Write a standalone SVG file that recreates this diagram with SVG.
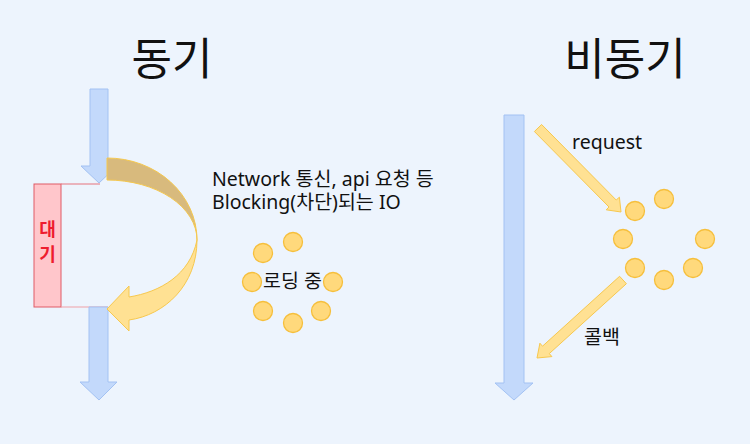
<svg xmlns="http://www.w3.org/2000/svg" width="750" height="444" viewBox="0 0 750 444">
<style>
.bg{fill:#edf4fd}
.blue{fill:#c3d9fb;stroke:#a3c2f3;stroke-width:1}
.yel{fill:#ffe193;stroke:#f7c84e;stroke-width:1}
.dot{fill:#ffd97c;stroke:#f6bf3c;stroke-width:1.3}
.t{font-family:"Noto Sans CJK KR","Noto Sans",sans-serif;fill:#111}
.l{font-family:"Noto Sans","Noto Sans CJK KR",sans-serif;fill:#111}
.title{font-size:44px;text-anchor:middle}
.lbl{font-size:19.5px}
</style>
<rect class="bg" x="0" y="0" width="750" height="444"/>
<g id="title-sync"><text class="t title" x="172" y="75">동기</text></g>
<g id="title-async"><text class="t title" x="625" y="75">비동기</text></g>
<g id="wait">
<rect x="34" y="184" width="27" height="123" fill="#ffc6cb" stroke="#e05a66" stroke-width="1"/>
<line x1="61" y1="184" x2="100" y2="184" stroke="#e6737d" stroke-width="1"/>
<line x1="61" y1="307" x2="108" y2="307" stroke="#f0a0a8" stroke-width="1.2"/>
<text class="t" x="47.5" y="236" font-size="18" font-weight="bold" text-anchor="middle" style="fill:#ee1c2e">대</text>
<text class="t" x="47.5" y="261" font-size="18" font-weight="bold" text-anchor="middle" style="fill:#ee1c2e">기</text>
</g>
<g id="connectors">
<polygon class="blue" points="90,89 108,89 108,166 117,166 99,183 81,166 90,166"/>
<polygon class="blue" points="89,307 108,307 108,382 117,382 99,400 80,382 89,382"/>
<path d="M107,158 A90,82 0 0 1 197,240 A90,60 0 0 0 107,180 Z" fill="#d8ba7d" stroke="#f5c84f" stroke-width="1"/>
<path class="yel" d="M197,240 C197,285 165,315 129,320 L129,331 L107,309 L129,286 L129,297 C160,292 190,275 197,240 Z"/>
<polygon class="blue" points="504,115 524,115 524,383 533,383 514,400 495,383 504,383"/>
<polygon class="yel" points="534.4,131.5 541.6,124.5 616.2,200.0 619.4,197.2 621,212 606.2,209.8 609.0,207.0"/>
<polygon class="yel" points="619.6,276.3 542.5,346.2 539.9,343.2 537,358 551.9,356.6 549.3,353.6 626.4,283.7"/>
</g>
<g id="desc">
<text class="l lbl" x="212" y="186">Network 통신, api 요청 등</text>
<text class="l lbl" x="212" y="209">Blocking(차단)되는 IO</text>
</g>
<g id="loading">
<circle class="dot" cx="293" cy="242" r="9.5"/>
<circle class="dot" cx="263" cy="253" r="9.5"/>
<circle class="dot" cx="252" cy="282" r="9.5"/>
<circle class="dot" cx="333" cy="282" r="9.5"/>
<circle class="dot" cx="263" cy="311" r="9.5"/>
<circle class="dot" cx="321" cy="311" r="9.5"/>
<circle class="dot" cx="293" cy="323" r="9.5"/>
<text class="l lbl" x="292.5" y="288" text-anchor="middle">로딩 중</text>
</g>
<g id="async-dots">
<circle class="dot" cx="635" cy="211" r="9.5"/>
<circle class="dot" cx="664" cy="199" r="9.5"/>
<circle class="dot" cx="623" cy="239" r="9.5"/>
<circle class="dot" cx="705" cy="239" r="9.5"/>
<circle class="dot" cx="635" cy="268" r="9.5"/>
<circle class="dot" cx="664" cy="280" r="9.5"/>
<circle class="dot" cx="693" cy="268" r="9.5"/>
</g>
<g id="labels">
<text class="l lbl" x="572" y="149">request</text>
<text class="l lbl" x="584" y="344">콜백</text>
</g>
</svg>
